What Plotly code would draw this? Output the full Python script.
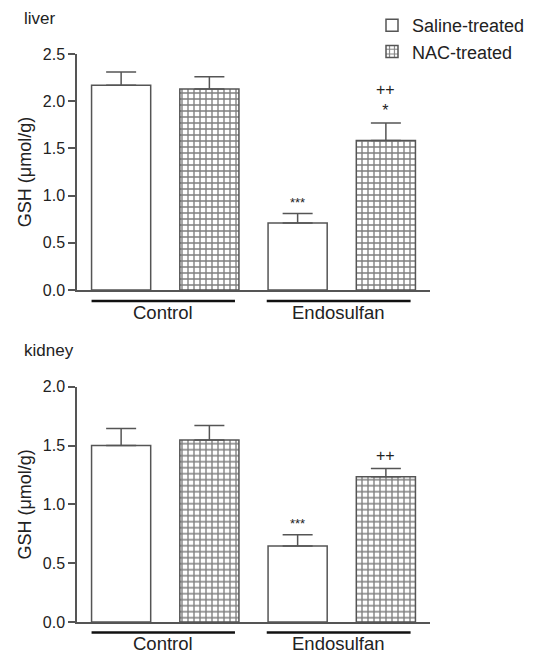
import plotly.graph_objects as go

groups = ["Control", "Endosulfan"]
series_names = ["Saline-treated", "NAC-treated"]
bar_positions = [0, 1, 2, 3]

liver_saline = [2.17, 0.71]
liver_saline_err = [0.14, 0.10]
liver_nac = [2.13, 1.585]
liver_nac_err = [0.13, 0.185]
liver_marks = ["", "", "***", "++<br>*"]

kidney_saline = [1.50, 0.646]
kidney_saline_err = [0.145, 0.095]
kidney_nac = [1.546, 1.235]
kidney_nac_err = [0.125, 0.07]
kidney_marks = ["", "", "***", "++"]

yticks_liver = [0.0, 0.5, 1.0, 1.5, 2.0, 2.5]
yticks_kidney = [0.0, 0.5, 1.0, 1.5, 2.0]

# the page body places the figure 8px from the top-left corner
OFF = 8
W, H = 541 - OFF, 653 - OFF
LINE = "#555555"
TXT = "#222222"
FONT = "Liberation Sans"

fig = go.Figure()

def px(x):
    return (x - OFF) / W

def py(y):
    return (H - (y - OFF)) / H

xdom = [px(77), px(430)]
panels = [
    dict(name="liver", sal=liver_saline, sal_e=liver_saline_err, nac=liver_nac, nac_e=liver_nac_err,
         marks=liver_marks, ticks=yticks_liver, rng=[0, 2.5], ydom=[py(290), py(54)],
         xa="x", ya="y", title_y=py(18), line_y=py(301), lab_y=py(313), showlegend=True),
    dict(name="kidney", sal=kidney_saline, sal_e=kidney_saline_err, nac=kidney_nac, nac_e=kidney_nac_err,
         marks=kidney_marks, ticks=yticks_kidney, rng=[0, 2.0], ydom=[py(622), py(386.7)],
         xa="x2", ya="y2", title_y=py(350), line_y=py(632.5), lab_y=py(643), showlegend=False),
]

annotations = []
shapes = []
BW = 0.67
for p in panels:
    sal_x = [bar_positions[0], bar_positions[2]]
    nac_x = [bar_positions[1], bar_positions[3]]
    fig.add_trace(go.Bar(
        x=sal_x, y=p["sal"], name=series_names[0], xaxis=p["xa"], yaxis=p["ya"], width=BW,
        showlegend=p["showlegend"], legendgroup="s",
        marker=dict(color="white", line=dict(color=LINE, width=1.5)),
        error_y=dict(type="data", symmetric=False, array=p["sal_e"], arrayminus=[0, 0],
                     color=LINE, thickness=1.5, width=15),
    ))
    fig.add_trace(go.Bar(
        x=nac_x, y=p["nac"], name=series_names[1], xaxis=p["xa"], yaxis=p["ya"], width=BW,
        showlegend=p["showlegend"], legendgroup="n",
        marker=dict(color="white", line=dict(color=LINE, width=1.5),
                    pattern=dict(shape="+", size=6, solidity=0.4, fgcolor="#000000", bgcolor="white",
                                 fillmode="overlay")),
        error_y=dict(type="data", symmetric=False, array=p["nac_e"], arrayminus=[0, 0],
                     color=LINE, thickness=1.5, width=15),
    ))
    all_tops = [p["sal"][0] + p["sal_e"][0], p["nac"][0] + p["nac_e"][0],
                p["sal"][1] + p["sal_e"][1], p["nac"][1] + p["nac_e"][1]]
    for i, m in enumerate(p["marks"]):
        if m:
            annotations.append(dict(x=bar_positions[i], y=all_tops[i], xref=p["xa"], yref=p["ya"],
                                    text=m, showarrow=False, yanchor="bottom", yshift=2,
                                    font=dict(size=16 if "+" in m else 13, color=TXT, family=FONT)))
    annotations.append(dict(x=px(22), y=p["title_y"], xref="paper", yref="paper", text=p["name"],
                            showarrow=False, xanchor="left", yanchor="middle",
                            font=dict(size=17, color=TXT, family=FONT)))
    for g, (x0, x1) in zip(groups, [(-0.335, 1.29), (1.65, 3.28)]):
        shapes.append(dict(type="line", xref=p["xa"], yref="paper", x0=x0, x1=x1,
                           y0=p["line_y"], y1=p["line_y"], line=dict(color="#111111", width=2.5)))
        annotations.append(dict(x=(x0 + x1) / 2, y=p["lab_y"], xref=p["xa"], yref="paper", text=g,
                                showarrow=False, yanchor="middle",
                                font=dict(size=18.5, color=TXT, family=FONT)))

axis_common_x = dict(range=[-0.5, 3.5], showline=True, linecolor=LINE, linewidth=1.5,
                     showticklabels=False, ticks="", showgrid=False, zeroline=False, fixedrange=True)

fig.update_layout(
    width=W, height=H, margin=dict(l=0, r=0, t=0, b=0, autoexpand=False),
    paper_bgcolor="white", plot_bgcolor="white",
    barmode="overlay",
    font=dict(family=FONT, color=TXT),
    xaxis=dict(domain=xdom, anchor="y", **axis_common_x),
    xaxis2=dict(domain=xdom, anchor="y2", **axis_common_x),
    showlegend=True,
    legend=dict(x=px(372), y=py(7), xanchor="left", yanchor="top",
                font=dict(size=18, color=TXT, family=FONT),
                bgcolor="rgba(0,0,0,0)", tracegroupgap=0, itemwidth=30),
    annotations=annotations,
    shapes=shapes,
)
for p, key in zip(panels, ["yaxis", "yaxis2"]):
    fig.layout[key] = dict(domain=p["ydom"], anchor=p["xa"], range=p["rng"], tickvals=p["ticks"],
                           tickformat=".1f", ticks="outside", ticklen=7, tickwidth=1.5, tickcolor=LINE,
                           showline=True, linecolor=LINE, linewidth=1.5, showgrid=False, zeroline=False,
                           tickfont=dict(size=16, color=TXT, family=FONT),
                           title=dict(text="GSH (μmol/g)", font=dict(size=18, color=TXT, family=FONT),
                                      standoff=6))

fig.write_html("out.html")
